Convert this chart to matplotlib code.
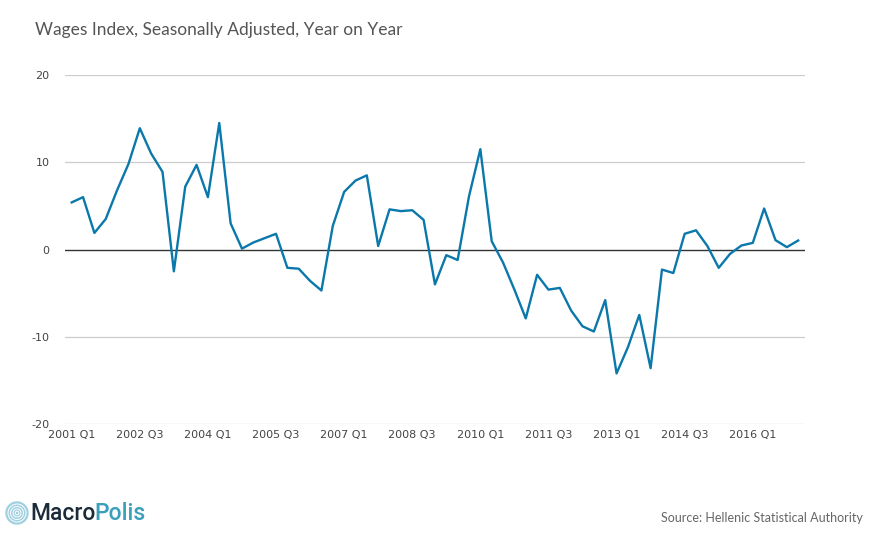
import matplotlib
matplotlib.use("Agg")
import matplotlib.pyplot as plt
from matplotlib.patches import Circle

plt.rcParams["axes.unicode_minus"] = False

# quarterly year-on-year change, 2001 Q1 .. 2017 Q1
wages_yoy = [
    5.4, 6.0, 1.9, 3.5, 6.8, 9.8, 13.9, 11.0, 8.9, -2.5,
    7.2, 9.7, 6.0, 14.5, 3.0, 0.1, 0.8, 1.3, 1.8, -2.1,
    -2.2, -3.6, -4.7, 2.7, 6.6, 7.9, 8.5, 0.4, 4.6, 4.4,
    4.5, 3.4, -4.0, -0.65, -1.2, 6.1, 11.5, 0.95, -1.5, -4.6,
    -7.9, -2.9, -4.6, -4.4, -7.0, -8.8, -9.4, -5.8, -14.2, -11.2,
    -7.5, -13.6, -2.3, -2.7, 1.8, 2.2, 0.4, -2.1, -0.5, 0.46,
    0.76, 4.7, 1.07, 0.27, 1.03,
]
quarters = [f"{2001 + i // 4} Q{i % 4 + 1}" for i in range(len(wages_yoy))]
tick_every = 6
y_ticks = [-20, -10, 0, 10, 20]

title = "Wages Index, Seasonally Adjusted, Year on Year"
source = "Source: Hellenic Statistical Authority"

W, H = 870, 550
fig = plt.figure(figsize=(W / 100, H / 100), dpi=100)
ax = fig.add_axes([65 / W, 1 - 424 / H, (805 - 65) / W, (424 - 75) / H])

x = list(range(len(wages_yoy)))
ax.plot(x, wages_yoy, color="#0a78aa", lw=1.7, zorder=3)

ax.set_ylim(-20, 20)
ax.set_xlim(-0.59, 64.6)
ax.set_yticks(y_ticks)
ax.set_xticks(x[::tick_every])
ax.set_xticklabels(quarters[::tick_every])

for v in y_ticks:
    if v == 0:
        ax.axhline(0, color="#333333", lw=1.0, zorder=2)
    else:
        ax.axhline(v, color="#cccccc", lw=0.9, zorder=1)

for s in ax.spines.values():
    s.set_visible(False)
ax.tick_params(axis="both", length=0, labelsize=8, colors="#444444")
ax.tick_params(axis="y", pad=11)
ax.tick_params(axis="x", pad=4)

fig.text(35 / W, 1 - 30 / H, title, fontsize=12.5, color="#555555",
         family="Lato", va="center", ha="left")
fig.text(863 / W, 1 - 518 / H, source, fontsize=9, color="#666666",
         family="Lato", va="center", ha="right")

# logo
logo_ax = fig.add_axes([0, 0, 1, 1], facecolor="none")
logo_ax.set_xlim(0, W)
logo_ax.set_ylim(H, 0)
logo_ax.axis("off")
logo_ax.add_patch(Circle((17, 513), 11, color="#9fd0e0"))
for r in [9, 6.5, 4, 1.8]:
    logo_ax.add_patch(Circle((17, 513), r, fill=False, ec="white", lw=0.7))
logo_ax.text(30, 514, "Macro", fontsize=16.5, color="#1c2b3a", family="Roboto",
             weight="medium", va="center", ha="left")
logo_ax.text(94, 514, "Polis", fontsize=16.5, color="#3a9fba", family="Roboto",
             weight="medium", va="center", ha="left")

fig.savefig("out.png", dpi=100)
